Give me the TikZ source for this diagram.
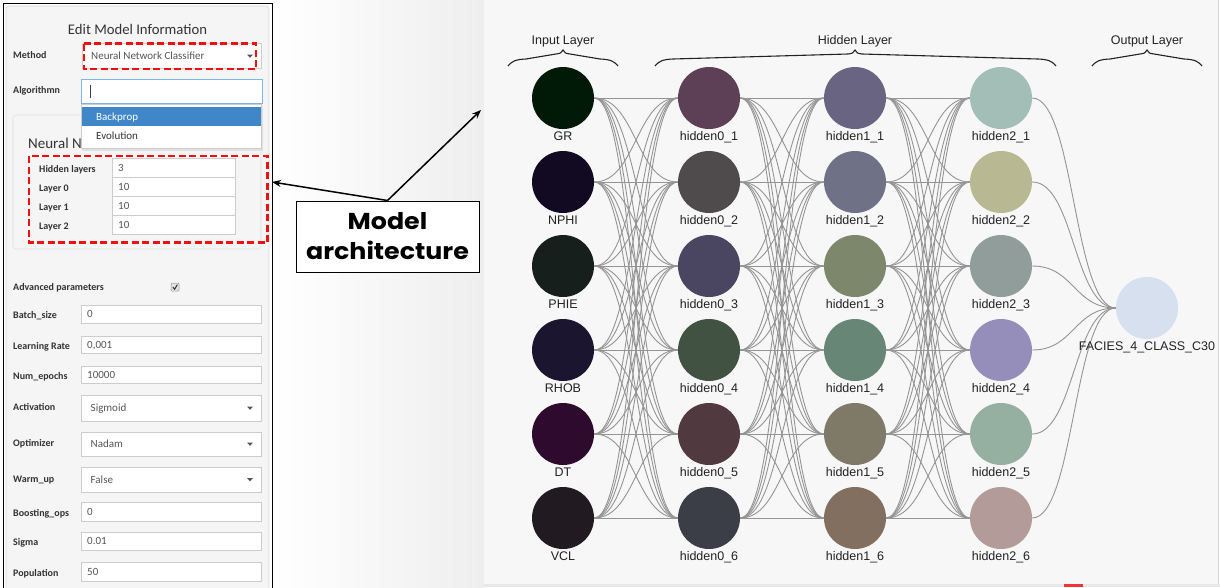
\documentclass[tikz,border=0pt]{standalone}
\usepackage{fontspec}
\setmainfont{Carlito}
\newfontfamily\arialf{Liberation Sans}
\newfontfamily\gothf[FakeStretch=1.1]{Poppins}
\usetikzlibrary{arrows.meta}
\pgfdeclarelayer{back}
\pgfdeclarelayer{edges}
\pgfsetlayers{back,edges,main}
\definecolor{txtc}{HTML}{222222}
\definecolor{linkc}{HTML}{949494}
\definecolor{netbg}{HTML}{F7F7F7}
\definecolor{gradc}{HTML}{EEEEEE}
\definecolor{panelc}{HTML}{F5F5F5}
\definecolor{panelb}{HTML}{D9D9D9}
\definecolor{inpb}{HTML}{CCCCCC}
\definecolor{focb}{HTML}{7DB5E8}
\definecolor{selc}{HTML}{3F87C9}
\definecolor{labc}{HTML}{333333}
\definecolor{valc}{HTML}{555555}
\definecolor{redc}{HTML}{F01010}
\definecolor{cGR}{HTML}{011A07}
\definecolor{cNPHI}{HTML}{110A22}
\definecolor{cPHIE}{HTML}{171F1D}
\definecolor{cRHOB}{HTML}{1C1530}
\definecolor{cDT}{HTML}{2E0A2F}
\definecolor{cVCL}{HTML}{211A20}
\definecolor{h0-1}{HTML}{5E4056}
\definecolor{h0-2}{HTML}{4F4B4C}
\definecolor{h0-3}{HTML}{4A4560}
\definecolor{h0-4}{HTML}{415142}
\definecolor{h0-5}{HTML}{50393F}
\definecolor{h0-6}{HTML}{3B3E46}
\definecolor{h1-1}{HTML}{6A6483}
\definecolor{h1-2}{HTML}{6F7287}
\definecolor{h1-3}{HTML}{7D876C}
\definecolor{h1-4}{HTML}{688676}
\definecolor{h1-5}{HTML}{7F7968}
\definecolor{h1-6}{HTML}{826F5F}
\definecolor{h2-1}{HTML}{A3BEB7}
\definecolor{h2-2}{HTML}{B8B893}
\definecolor{h2-3}{HTML}{919D9B}
\definecolor{h2-4}{HTML}{958EBB}
\definecolor{h2-5}{HTML}{95B0A0}
\definecolor{h2-6}{HTML}{B29B99}
\definecolor{cOUT}{HTML}{D6E0EF}
\newcommand\drawmybrace[3]{%
  \draw[brace] (#1,66) .. controls ({#1+5},60) and ({#1+9},59.5) .. ({#1+18},59)
    -- ({#2-7},54) .. controls ({#2-3},53.5) and ({#2-1},53) .. (#2,50)
    .. controls ({#2+1},53) and ({#2+3},53.5) .. ({#2+7},54)
    -- ({#3-18},59) .. controls ({#3-9},59.5) and ({#3-5},60) .. (#3,66);}
\newcommand\mycaret[2]{\fill[valc] ({#1-3},{#2-1.5}) -- ({#1+3},{#2-1.5}) -- (#1,{#2+1.8}) -- cycle;}
\begin{document}
\begin{tikzpicture}[x=1pt,y=-1pt,
  neuron/.style={circle,minimum size=62pt,inner sep=0pt,draw=none},
  nlbl/.style={font=\arialf\fontsize{12.5}{14}\selectfont,text=txtc,anchor=base,inner sep=0pt},
  link/.style={draw=linkc,line width=0.9pt},
  brace/.style={draw=txtc,line width=1.1pt},
  flab/.style={font=\bfseries\fontsize{10}{12}\selectfont,text=labc,anchor=west,inner sep=0pt,text height=6.6pt,text depth=0pt},
  fval/.style={font=\fontsize{11}{13}\selectfont,text=valc,anchor=west,inner sep=0pt,text height=7pt,text depth=0pt},
  inp/.style={draw=inpb,fill=white,line width=0.7pt},
  redbox/.style={draw=redc,line width=2.6pt,dash pattern=on 7pt off 3.5pt},
  mabox/.style={draw=black,fill=white,line width=1pt,minimum width=183pt,minimum height=71pt,inner sep=0pt,align=center,
     font=\gothf\bfseries\fontsize{23}{30}\selectfont},
  arr/.style={draw=black,line width=1.5pt,-{Stealth[length=9pt,width=7pt]}}]
\useasboundingbox (0,0) rectangle (1220,587);
\begin{pgfonlayer}{back}
\fill[white] (0,0) rectangle (1220,587);
\shade[left color=white,right color=gradc] (272,0) rectangle (484,587);
\fill[netbg] (484,0) rectangle (1218,584);
\draw[draw=panelb,line width=0.6pt] (1218.3,0) -- (1218.3,584);
\fill[gray!18] (484,584) rectangle (1220,587);
\fill[redc!85] (1064,584.2) rectangle (1083,587);
\end{pgfonlayer}
% ---------- network ----------
\foreach \nm [count=\i] in {GR,NPHI,PHIE,RHOB,DT,VCL} {
  \node[neuron,fill=c\nm] (in\i) at (563,{98+84*(\i-1)}) {};
  \node[nlbl] (tin\i) at (563,{140+84*(\i-1)}) {\nm};
}
\foreach \L/\x in {0/709,1/855,2/1001} {
  \foreach \i in {1,...,6} {
    \node[neuron,fill=h\L-\i] (h\L-\i) at (\x,{98+84*(\i-1)}) {};
    \node[nlbl] (th\L-\i) at (\x,{140+84*(\i-1)}) {hidden\L\_\i};
  }
}
\node[neuron,fill=cOUT] (out) at (1147,308) {};
\node[nlbl] (tout) at (1147,350) {FACIES\_4\_CLASS\_C30};
\begin{pgfonlayer}{edges}
\foreach \a in {1,...,6} {
  \foreach \b in {1,...,6} {
    \draw[link] (in\a.east) .. controls +(42,0) and +(-42,0) .. (h0-\b.west);
    \draw[link] (h0-\a.east) .. controls +(42,0) and +(-42,0) .. (h1-\b.west);
    \draw[link] (h1-\a.east) .. controls +(42,0) and +(-42,0) .. (h2-\b.west);
  }
  \draw[link] (h2-\a.east) .. controls +(42,0) and +(-42,0) .. (out.west);
}
\end{pgfonlayer}
\drawmybrace{508}{563}{618}
\drawmybrace{655}{855}{1056}
\drawmybrace{1092}{1147}{1202}
\node[nlbl] (tinput) at (563,44) {Input Layer};
\node[nlbl] (thidden) at (855,44) {Hidden Layer};
\node[nlbl] (toutput) at (1147,44) {Output Layer};
% ---------- form panel ----------
\draw[black,line width=1pt] (3,3) rectangle (272,600);
\draw[fill=panelc,draw=panelb,line width=0.7pt,rounded corners=3pt] (6,6) rectangle (269,600);
\node[font=\fontsize{14.7}{17}\selectfont,text=labc,inner sep=0pt] (title) at (137.5,29) {Edit Model Information};
% method
\node[flab] (lmethod) at (13,55) {Method};
\draw[inp] (82,43) rectangle (261,68);
\node[fval] (vmethod) at (91,56) {Neural Network Classifier};
\mycaret{250}{56}
\draw[redbox] (84,43.5) rectangle (256,69);
% algorithm
\node[flab] (lalgo) at (13,90) {Algorithmn};
\draw[draw=focb,fill=white,line width=0.9pt] (81,79) rectangle (262,103);
\draw[black!75,line width=0.7pt] (90.5,85) -- (90.5,98);
% inner panel
\draw[fill=panelc,draw=panelb!80,line width=0.6pt,rounded corners=3pt] (13,115) rectangle (261,249);
\node[font=\fontsize{15}{18}\selectfont,text=labc,anchor=west,inner sep=0pt] (nntitle) at (28,143) {Neural N};
% dropdown menu
\fill[black!12] (82,106) rectangle (263,150.5);
\draw[draw=inpb,fill=white,line width=0.6pt] (81,104) rectangle (261,148);
\fill[selc] (81.5,107) rectangle (260.5,126);
\node[fval,text=white] (vback) at (96,116.5) {Backprop};
\node[fval,text=labc] (vevo) at (96,136) {Evolution};
% hidden layers block
\foreach \t/\v/\y [count=\k] in {Hidden layers/3/168, Layer 0/10/187, Layer 1/10/206, Layer 2/10/225} {
  \draw[inp] (112,{\y-10}) rectangle (235,{\y+9});
  \node[flab] (lh\k) at (39,{\y+1}) {\t};
  \node[fval] (vh\k) at (118,\y) {\v};
}
\draw[redbox] (29,156) rectangle (267.5,242.5);
% advanced
\node[flab] (ladv) at (13,287) {Advanced parameters};
\draw[draw=black!40,fill=black!12,line width=0.5pt,rounded corners=1pt] (171,283) rectangle (179,291);
\draw[black!80,line width=1pt] (172.8,287) -- (174.6,289.2) -- (177.4,284.6);
% plain inputs
\foreach \t/\v/\a/\b [count=\k] in {Batch\_size/0/305/323, Learning Rate/{0,001}/336/353, Num\_epochs/10000/366/383,
    Boosting\_ops/0/502/521, Sigma/0.01/532/550, Population/50/562/581} {
  \draw[inp] (81,\a) rectangle (261,\b);
  \node[flab] (lp\k) at (13,{(\a+\b)/2+1.5}) {\t};
  \node[fval] (vp\k) at (87,{(\a+\b)/2}) {\v};
}
% dropdowns
\foreach \t/\v/\a/\b [count=\k] in {Activation/Sigmoid/395/421, Optimizer/Nadam/432/456, Warm\_up/False/467/492} {
  \draw[inp] (81,\a) rectangle (261,\b);
  \node[flab] (ld\k) at (13,{(\a+\b)/2-0.5}) {\t};
  \node[fval] (vd\k) at (90.5,{(\a+\b)/2}) {\v};
  \mycaret{250}{(\a+\b)/2}
}
% ---------- callout ----------
\node[mabox] (ma) at (387.5,236.5) {Model\\architecture};
\coordinate (tipL) at (272,182);
\coordinate (tipR) at (481,110);
\draw[arr] (ma.north) -- (tipL);
\draw[arr] (ma.north) -- (tipR);
\end{tikzpicture}
\end{document}
